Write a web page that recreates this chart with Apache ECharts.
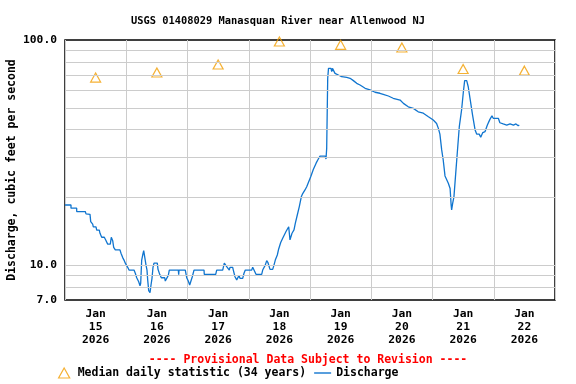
<!DOCTYPE html>
<html>
<head>
<meta charset="utf-8">
<script src="https://cdn.jsdelivr.net/npm/echarts@6/dist/echarts.min.js"></script>
<style>html,body{margin:0;padding:0;background:#fff;}#c{width:576px;height:384px;}</style>
</head>
<body>
<div id="c"></div>
<script>
// Hours since Jan 15 2026 00:00
const hours = [0, 2.35, 2.35, 4.58, 4.58, 7.95, 8.23, 9.8, 10.07, 10.85,
 11.09, 12.15, 12.42, 13.44, 13.71, 14.38, 15.4, 15.95, 16.73, 17.75,
 18.14, 18.69, 19.08, 19.71, 21.55, 21.94, 22.61, 23.12, 23.63, 24.57,
 25.08, 27.04, 27.55, 28.1, 28.88, 29.39, 29.66, 30.05, 30.45, 30.84,
 31.35, 31.74, 32.13, 32.4, 32.8, 33.31, 33.7, 34.09, 34.48, 34.87,
 36.17, 36.44, 37.11, 37.73, 39.06, 39.3, 40.08, 40.48, 40.87, 44.4,
 44.55, 44.67, 47.14, 47.69, 48.31, 48.86, 49.49, 49.88, 50.55, 54.47,
 54.58, 59.05, 59.44, 61.79, 62.42, 62.97, 63.36, 63.99, 64.38, 64.65,
 65.71, 65.95, 66.61, 67.28, 67.67, 68.18, 68.57, 69.63, 70.14, 70.65,
 73.16, 73.55, 74.06, 74.84, 77.07, 77.46, 77.97, 78.48, 79.03, 79.54,
 80.33, 81.38, 81.89, 82.4, 83.19, 83.73, 84.52, 85.3, 86.6, 87.65,
 88.16, 88.95, 89.73, 90.24, 91.02, 91.81, 92.59, 93.14, 94.04, 94.71,
 95.33, 96.28, 97.29, 98.35, 99.25, 99.92, 101.99, 102.27, 102.54, 102.94,
 103.25, 104.23, 104.5, 104.8, 105.2, 105.8, 107.1, 108.4, 110.4, 111.7,
 113, 114.3, 115.6, 117.6, 119.5, 121.5, 123.4, 124.7, 126.7, 128.6,
 131.3, 132.6, 134.5, 136.5, 138.4, 140.4, 142.4, 144.3, 145.6, 146.3,
 146.9, 147.6, 148.2, 148.9, 149.6, 150.2, 150.9, 151.3, 151.5, 151.9,
 152.4, 152.8, 153.2, 153.7, 154.5, 155.4, 156.1, 156.6, 157.4, 158,
 159, 159.7, 160.7, 161.3, 162.3, 162.9, 163.7, 164.6, 165.5, 166.5,
 167.3, 167.8, 169.8, 170.4, 171.7, 173.1, 174.4, 175.7, 176.7, 177.6,
 178];
const discharge = [18.5, 18.5, 17.9, 17.9, 17.3, 17.3, 16.9, 16.8, 15.6, 15.2,
 14.8, 14.8, 14.3, 14.3, 13.85, 13.3, 13.3, 12.94, 12.4, 12.4,
 13.3, 12.84, 12.0, 11.68, 11.68, 11.3, 10.8, 10.53, 10.2, 9.78,
 9.51, 9.51, 9.2, 8.79, 8.44, 8.1, 8.3, 10.53, 11.09, 11.6,
 11.5, 10.0, 9.5, 8.6, 7.7, 7.54, 8.16, 8.74, 9.78, 10.2,
 10.2, 9.58, 9.1, 8.79, 8.79, 8.5, 8.5, 9.0, 9.51, 9.51,
 9.07, 9.51, 9.51, 8.79, 8.5, 8.16, 8.16, 8.88, 9.51, 9.51,
 9.1, 9.1, 9.51, 9.51, 10.2, 10.2, 9.84, 9.78, 9.51, 9.78,
 9.78, 9.51, 8.88, 8.6, 8.5, 9.0, 8.74, 8.74, 9.2, 9.51,
 9.51, 9.78, 9.51, 9.1, 9.1, 9.51, 9.51, 10.0, 10.47, 10.25,
 9.58, 9.58, 10.0, 10.53, 11.09, 11.8, 12.6, 13.16, 14.1, 14.8,
 12.94, 13.85, 14.33, 15.34, 16.7, 18.2, 20.1, 20.8, 21.57, 22.3,
 22.7, 24.7, 26.6, 28.3, 29.6, 30.5, 30.5, 29.6, 33, 67.6,
 74.8, 74.8, 72.3, 74.8, 73.6, 71.1, 69.9, 68.7, 68.2, 67.6,
 66, 64.2, 63.1, 61, 60, 58.6, 58, 57.4, 56.4, 55.1,
 54.1, 52.3, 50.5, 49.7, 48, 47.3, 45.6, 44.1, 42.6, 40.5,
 38.2, 32.5, 29.3, 24.9, 24.8, 23.1, 21.9, 18.5, 17.6, 18.8,
 20.1, 20.5, 26.5, 31.4, 41.2, 48.9, 58.9, 66, 66, 62,
 52.3, 46.4, 39.8, 38.2, 38.2, 37, 38.8, 39.2, 41.9, 44.4,
 46, 44.9, 44.9, 42.9, 42.4, 41.9, 42.4, 41.9, 42.4, 41.6,
 41.9];

// Median daily statistic, at noon of each day
const medianHours = [12, 36, 60, 84, 108, 132, 156, 180];
const medianValues = [68.1, 71.7, 77.8, 98.5, 95.2, 92.6, 74.3, 73.1];

const dayLabels = ['Jan\n15\n2026', 'Jan\n16\n2026', 'Jan\n17\n2026', 'Jan\n18\n2026',
  'Jan\n19\n2026', 'Jan\n20\n2026', 'Jan\n21\n2026', 'Jan\n22\n2026'];
const yLabelValues = [7, 10, 100];
const yGridValues = [8, 9, 10, 20, 30, 40, 50, 60, 70, 80, 90];

const FONT = '"DejaVu Sans Mono", "Liberation Mono", monospace';
const BLUE = '#1075cf';
const ORANGE = '#f29d00';
const TRI = 'path://M5,0 L10,9 L0,9 Z';
const LINEICON = 'path://M0,0 L17,0 L17,1.4 L0,1.4 Z';

const chart = echarts.init(document.getElementById('c'), null, {renderer: 'canvas'});
chart.setOption({
  animation: false,
  backgroundColor: '#fff',
  title: {
    text: 'USGS 01408029 Manasquan River near Allenwood NJ',
    left: 126, top: 11,
    textStyle: {fontFamily: FONT, fontWeight: 'bold', fontSize: 10.4, color: '#000'}
  },
  grid: {left: 65, right: 21, top: 40, bottom: 84, containLabel: false, outerBoundsMode: 'none',
    show: true, borderColor: '#000', borderWidth: 1.5, backgroundColor: 'transparent'},
  legend: {
    left: 53, top: 362, itemWidth: 17, itemHeight: 10, itemGap: 8,
    textStyle: {fontFamily: FONT, fontWeight: 'bold', fontSize: 11.5, color: '#000'},
    data: [
      {name: 'Median daily statistic (34 years)', icon: TRI,
       itemStyle: {color: 'rgba(255,255,255,0)', borderColor: ORANGE, borderWidth: 1.2}},
      {name: 'Discharge', icon: LINEICON, itemStyle: {color: BLUE, borderWidth: 0}}
    ]
  },
  graphic: [{
    type: 'text', x: 308, y: 360.5,
    style: {text: '---- Provisional Data Subject to Revision ----', textAlign: 'center', textVerticalAlign: 'middle',
      fill: '#ff0000', font: 'bold 11.5px ' + FONT}
  }],
  xAxis: [{
    type: 'value', min: 0, max: 192, interval: 24,
    axisLine: {show: false}, axisTick: {show: false}, axisLabel: {show: false},
    splitLine: {show: true, lineStyle: {color: '#cccccc', width: 1}}
  }, {
    type: 'value', min: 0, max: 192, interval: 12, position: 'bottom',
    axisLine: {show: false}, axisTick: {show: false}, splitLine: {show: false},
    axisLabel: {
      margin: 8, lineHeight: 13, fontFamily: FONT, fontWeight: 'bold', fontSize: 11.3, color: '#000',
      formatter: function (v) { return (v % 24 === 12) ? dayLabels[(v - 12) / 24] : ''; }
    }
  }],
  yAxis: {
    type: 'log', logBase: 10, min: 7, max: 100,
    name: 'Discharge, cubic feet per second', nameLocation: 'middle', nameRotate: 90, nameGap: 47,
    nameMoveOverlap: false,
    nameTextStyle: {fontFamily: FONT, fontWeight: 'bold', fontSize: 11.5, color: '#000'},
    axisLine: {show: false}, axisTick: {show: false}, splitLine: {show: false},
    axisLabel: {
      customValues: yLabelValues, margin: 8, fontFamily: FONT, fontWeight: 'bold', fontSize: 11.3, color: '#000',
      formatter: function (v) { return Number(v).toFixed(1); }
    }
  },
  series: [{
    type: 'line', name: 'grid', data: [], silent: true, z: 1,
    markLine: {
      silent: true, symbol: 'none', animation: false,
      label: {show: false},
      lineStyle: {color: '#cccccc', width: 1, type: 'solid'},
      data: yGridValues.map(v => ({yAxis: v}))
    }
  }, {
    type: 'scatter', name: 'Median daily statistic (34 years)', z: 4,
    symbol: TRI, symbolSize: [10, 9],
    itemStyle: {color: 'rgba(255,255,255,0)', borderColor: ORANGE, borderWidth: 1.2},
    data: medianHours.map((h, i) => [h, medianValues[i]])
  }, {
    type: 'line', name: 'Discharge', z: 3, showSymbol: false, symbol: 'none',
    lineStyle: {color: BLUE, width: 1.3}, itemStyle: {color: BLUE},
    data: hours.map((h, i) => [h, discharge[i]])
  }]
});
</script>
</body>
</html>
